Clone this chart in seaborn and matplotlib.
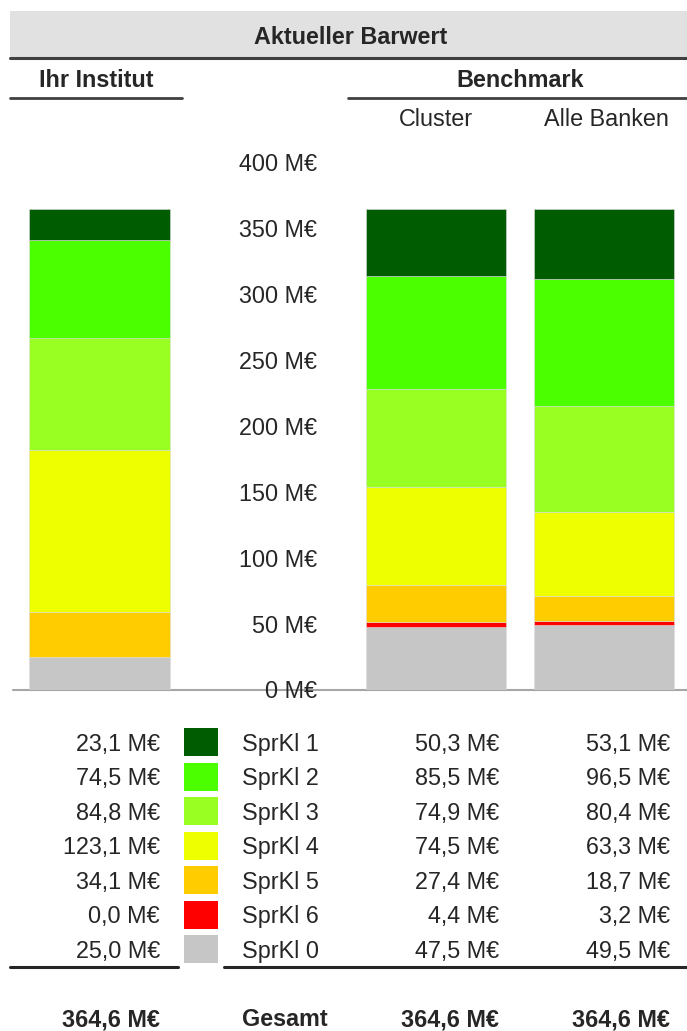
import matplotlib
matplotlib.use("Agg")
import matplotlib.pyplot as plt
import matplotlib.patches as mpatches
import matplotlib.lines as mlines
import matplotlib.transforms as mtransforms
import numpy as np
import pandas as pd
import seaborn as sns

# ---- data -------------------------------------------------------------
groups = ["Ihr Institut", "Cluster", "Alle Banken"]
classes = ["SprKl 1", "SprKl 2", "SprKl 3", "SprKl 4", "SprKl 5", "SprKl 6", "SprKl 0"]
class_colors = ["#005c00", "#4cff00", "#99ff22", "#eeff00", "#ffcc00", "#ff0000", "#c6c6c6"]
ihr_institut = [23.1, 74.5, 84.8, 123.1, 34.1, 0.0, 25.0]
cluster = [50.3, 85.5, 74.9, 74.5, 27.4, 4.4, 47.5]
alle_banken = [53.1, 96.5, 80.4, 63.3, 18.7, 3.2, 49.5]
totals = [364.6, 364.6, 364.6]
y_ticks = [0, 50, 100, 150, 200, 250, 300, 350, 400]

title = "Aktueller Barwert"
total_label = "Gesamt"

# ---- style ------------------------------------------------------------
sns.set_theme(style="white")
plt.rcParams["font.family"] = ["Liberation Sans", "DejaVu Sans"]
TXT = "#262626"
FS = 16.8
DY = 2  # small downward nudge so glyphs sit centred on their rows

W, H = 687, 1031
fig = plt.figure(figsize=(W / 100, H / 100), dpi=100)


def fx(px):
    return px / W


def fy(py):
    return 1 - py / H


def fmt(v):
    return f"{v:.1f}".replace(".", ",") + " M€"


def label(px, py, s, ha="left", bold=False):
    fig.text(fx(px), fy(py + DY), s, ha=ha, va="center", fontsize=FS,
             fontweight="bold" if bold else "normal", color=TXT)


# ---- stacked bars -----------------------------------------------------
slot = 168.2                     # pixel distance between category slots
x0 = 99.5                        # pixel centre of the first slot
y_zero, y_top = 690, 162.7       # pixel rows of 0 and 400
ax = fig.add_axes([0, fy(y_zero), 1, (y_zero - y_top) / H])

order = [groups[0], " ", groups[1], groups[2]]
df = pd.DataFrame({
    "group": np.repeat(groups, len(classes)),
    "klasse": classes * len(groups),
    "value": ihr_institut + cluster + alle_banken,
})

# stack from the bottom class (SprKl 0) up to SprKl 1
bottom = np.zeros(len(groups))
for k in reversed(range(len(classes))):
    sub = df[df["klasse"] == classes[k]]
    vals = sub.set_index("group").loc[groups, "value"].to_numpy()
    sns.barplot(data=sub, x="group", y="value", order=order, ax=ax,
                color=class_colors[k], saturation=1, errorbar=None,
                width=140.5 / slot, bottom=bottom,
                edgecolor="#dcdcdc", linewidth=0.4)
    bottom = bottom + vals

ax.axis("off")
ax.set_xlim(-x0 / slot, (W - x0) / slot)
ax.set_ylim(0, 400)

# baseline
fig.add_artist(mlines.Line2D([fx(13), 1], [fy(y_zero)] * 2,
                             color="#a6a6a6", lw=1.5, zorder=0))

# value axis labels in the gap between the bars
label_x = (317 - x0) / slot
nudge = mtransforms.ScaledTranslation(0, -DY / 100, fig.dpi_scale_trans)
for t in y_ticks:
    ax.text(label_x, t, f"{t} M€", ha="right", va="center", fontsize=FS,
            color=TXT, clip_on=False, transform=ax.transData + nudge)

# ---- headers ------------------------------------------------------------
fig.patches.append(mpatches.Rectangle((fx(10), fy(58)), 1 - fx(10), (58 - 11) / H,
                                      transform=fig.transFigure, facecolor="#e1e1e1",
                                      edgecolor="none", zorder=0))
fig.add_artist(mlines.Line2D([fx(10), 1], [fy(58)] * 2, color="#404040", lw=2.2))
label(351, 35, title, ha="center", bold=True)

label(96, 79, groups[0], ha="center", bold=True)
fig.add_artist(mlines.Line2D([fx(10), fx(182)], [fy(97.7)] * 2, color="#404040", lw=2))
label(520, 79, "Benchmark", ha="center", bold=True)
fig.add_artist(mlines.Line2D([fx(348), 1], [fy(97.7)] * 2, color="#404040", lw=2))

label(435.5, 117, groups[1], ha="center")
label(606, 117, groups[2], ha="center")

# ---- table --------------------------------------------------------------
row0, row_step = 742, 34.55
for i, name in enumerate(classes):
    yc = row0 + i * row_step
    label(160, yc, fmt(ihr_institut[i]), ha="right")
    fig.patches.append(mpatches.Rectangle((fx(184), fy(yc + 14)), 34 / W, 28 / H,
                                          transform=fig.transFigure,
                                          facecolor=class_colors[i], edgecolor="none"))
    label(242, yc, name)
    label(499, yc, fmt(cluster[i]), ha="right")
    label(670, yc, fmt(alle_banken[i]), ha="right")

fig.add_artist(mlines.Line2D([fx(10), fx(178)], [fy(966.7)] * 2, color="#262626", lw=2.2))
fig.add_artist(mlines.Line2D([fx(224), 1], [fy(966.7)] * 2, color="#262626", lw=2.2))

y_tot = 1018
label(160, y_tot, fmt(totals[0]), ha="right", bold=True)
label(242, y_tot, total_label, bold=True)
label(499, y_tot, fmt(totals[1]), ha="right", bold=True)
label(670, y_tot, fmt(totals[2]), ha="right", bold=True)

fig.savefig("out.png", dpi=100, facecolor="white")
